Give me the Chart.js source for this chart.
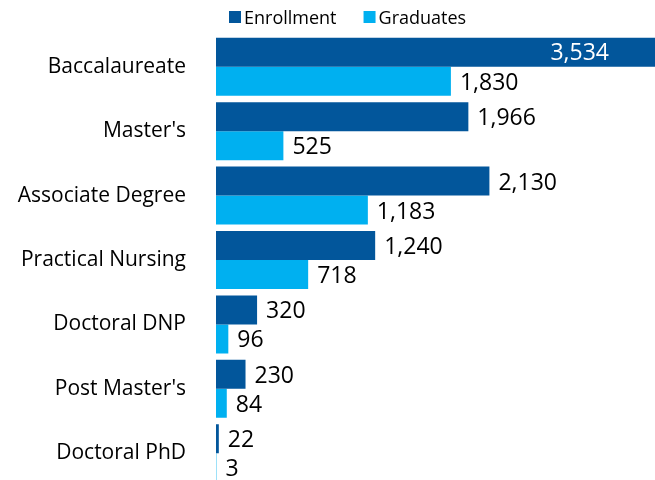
<!DOCTYPE html>
<html>
<head>
<meta charset="utf-8">
<script src="https://cdn.jsdelivr.net/npm/chart.js@4"></script>
<style>
    body { margin: 0; overflow: hidden; background: #fff; }
</style>
</head>
<body>
<canvas id="progChart" width="655" height="520"></canvas>
<script>
const categories = ["Baccalaureate", "Master's", "Associate Degree", "Practical Nursing", "Doctoral DNP", "Post Master's", "Doctoral PhD"];
const enrollment = [3534, 1966, 2130, 1240, 320, 230, 22];
const graduates = [1830, 525, 1183, 718, 96, 84, 3];
const seriesNames = ['Enrollment', 'Graduates'];
const seriesColors = ['#02569B', '#00B0F0'];

const fontFamily = "'Open Sans', sans-serif";

// legend drawn by hand so it sits where the original has it
const topLegend = {
    id: 'topLegend',
    afterDraw(chart) {
        const ctx = chart.ctx;
        ctx.save();
        ctx.font = "18px " + fontFamily;
        ctx.textBaseline = 'alphabetic';
        ctx.textAlign = 'left';
        let x = 229;
        seriesNames.forEach((name, i) => {
            ctx.fillStyle = seriesColors[i];
            ctx.fillRect(x, 11, 12, 12);
            ctx.fillStyle = '#000';
            ctx.fillText(name, x + 15, 24);
            x += 15 + ctx.measureText(name).width + 27;
        });
        ctx.restore();
    }
};

// value labels at the end of each bar
const valueLabels = {
    id: 'valueLabels',
    afterDatasetsDraw(chart) {
        const ctx = chart.ctx;
        const area = chart.chartArea;
        ctx.save();
        ctx.font = "23px " + fontFamily;
        ctx.textBaseline = 'middle';
        chart.data.datasets.forEach((ds, i) => {
            const meta = chart.getDatasetMeta(i);
            meta.data.forEach((bar, j) => {
                const text = ds.data[j].toLocaleString('en-US');
                if (bar.x > area.right) {
                    // bar runs past the plot, put label inside
                    ctx.fillStyle = '#fff';
                    ctx.textAlign = 'right';
                    ctx.fillText(text, area.right - 46, bar.y + 1);
                } else {
                    ctx.fillStyle = '#000';
                    ctx.textAlign = 'left';
                    ctx.fillText(text, bar.x + 9, bar.y + 2);
                }
            });
        });
        ctx.restore();
    }
};

const ctx = document.getElementById('progChart').getContext('2d');
const progChart = new Chart(ctx, {
    type: 'bar',
    data: {
        labels: categories,
        datasets: [{
            label: seriesNames[0],
            data: enrollment,
            backgroundColor: seriesColors[0],
            categoryPercentage: 0.9,
            barPercentage: 1.0
        }, {
            label: seriesNames[1],
            data: graduates,
            backgroundColor: seriesColors[1],
            categoryPercentage: 0.9,
            barPercentage: 1.0
        }]
    },
    options: {
        indexAxis: 'y',
        responsive: false,
        animation: false,
        layout: {
            padding: { top: 25.6, bottom: 5, right: 0, left: 0 }
        },
        plugins: {
            legend: { display: false },
            tooltip: { enabled: false }
        },
        scales: {
            x: {
                display: false,
                min: 0,
                max: 3420
            },
            y: {
                grid: { display: false },
                border: { display: false },
                ticks: {
                    color: '#000',
                    padding: 22,
                    font: { size: 21, family: fontFamily }
                },
                afterFit(scale) {
                    scale.width = 216;
                }
            }
        }
    },
    plugins: [valueLabels, topLegend]
});
</script>
</body>
</html>
